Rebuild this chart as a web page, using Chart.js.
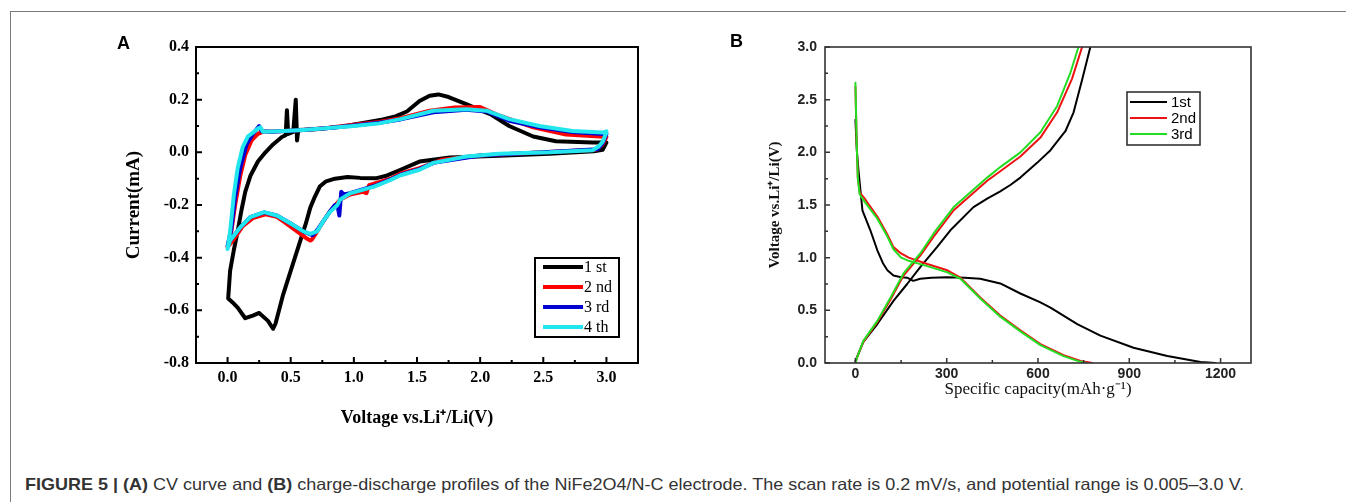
<!DOCTYPE html>
<html>
<head>
<meta charset="utf-8">
<script src="https://cdn.jsdelivr.net/npm/chart.js@4/dist/chart.umd.min.js"></script>
<style>
  html, body { margin:0; padding:0; background:#fff; }
  body { width:1346px; height:502px; position:relative; overflow:hidden; }
  .line-h { position:absolute; left:10px; top:11px; width:1336px; height:1px; background:#7a7a7a; }
  .line-v { position:absolute; left:10px; top:11px; width:1px; height:491px; background:#7a7a7a; }
  .plabel { position:absolute; font-family:'Liberation Sans', Arial, sans-serif; font-weight:bold; font-size:18px; line-height:18px; color:#000; }
  .wrap { position:absolute; top:0; width:673px; height:440px; }
  #cap { position:absolute; left:25px; top:476px; white-space:nowrap; font-family:'Liberation Sans', Arial, sans-serif;
         font-size:16.5px; line-height:16px; color:#333; transform-origin:0 0; }
</style>
</head>
<body>
<div class="line-h"></div>
<div class="line-v"></div>
<div class="wrap" style="left:0"><canvas id="cA" width="673" height="440"></canvas></div>
<div class="wrap" style="left:673px"><canvas id="cB" width="673" height="440"></canvas></div>
<div class="plabel" style="left:117px;top:34px">A</div>
<div class="plabel" style="left:730px;top:32px">B</div>
<div id="cap"><b>FIGURE 5 |</b> <b>(A)</b> CV curve and <b>(B)</b> charge-discharge profiles of the NiFe2O4/N-C electrode. The scan rate is 0.2 mV/s, and potential range is 0.005–3.0 V.</div>
<script>
// ---------------- DATA: panel A (CV curves), [voltage V, current mA] ----------------
const cvLabels = ['1 st', '2 nd', '3 rd', '4 th'];
const cvVoltTicks = [0.0, 0.5, 1.0, 1.5, 2.0, 2.5, 3.0];
const cvCurrTicks = [-0.8, -0.6, -0.4, -0.2, 0.0, 0.2, 0.4];

const cv1st = [
  [3.0,0.037],[2.97,0.01],[2.9,0.004],[2.55,-0.005],[2.15,-0.013],[1.76,-0.02],[1.52,-0.035],[1.37,-0.066],
  [1.25,-0.09],[1.18,-0.098],[1.05,-0.097],[0.95,-0.094],[0.85,-0.1],[0.78,-0.11],[0.73,-0.13],[0.69,-0.17],
  [0.655,-0.21],[0.62,-0.27],[0.58,-0.33],[0.52,-0.42],[0.44,-0.54],[0.38,-0.65],[0.36,-0.67],[0.32,-0.64],
  [0.25,-0.61],[0.2,-0.62],[0.14,-0.63],[0.08,-0.59],[0.04,-0.57],[0.005,-0.555],
  [0.02,-0.45],[0.05,-0.37],[0.08,-0.3],[0.11,-0.22],[0.14,-0.15],[0.18,-0.09],[0.24,-0.035],[0.3,0.0],
  [0.36,0.03],[0.43,0.058],[0.46,0.065],[0.47,0.16],[0.48,0.07],[0.52,0.078],[0.54,0.2],[0.55,0.045],
  [0.56,0.085],[0.7,0.088],[0.9,0.097],[1.05,0.11],[1.23,0.125],[1.32,0.135],[1.42,0.155],[1.52,0.195],
  [1.6,0.215],[1.67,0.22],[1.75,0.21],[1.89,0.183],[2.0,0.16],[2.08,0.145],[2.23,0.10],[2.42,0.06],
  [2.6,0.042],[2.89,0.037],[3.0,0.037]
];
const cv2nd = [
  [3.0,0.058],[2.97,0.03],[2.92,0.01],[2.5,0.0],[2.0,-0.012],[1.7,-0.028],[1.52,-0.06],[1.37,-0.08],
  [1.29,-0.1],[1.12,-0.125],[1.1,-0.155],[1.07,-0.15],[0.97,-0.16],[0.89,-0.18],[0.81,-0.225],[0.76,-0.26],
  [0.71,-0.3],[0.67,-0.33],[0.655,-0.335],[0.62,-0.325],[0.55,-0.3],[0.45,-0.265],[0.39,-0.245],[0.3,-0.235],
  [0.2,-0.25],[0.12,-0.28],[0.05,-0.33],[0.0,-0.36],
  [0.03,-0.3],[0.06,-0.2],[0.1,-0.09],[0.14,-0.01],[0.19,0.045],[0.24,0.07],[0.28,0.078],[0.4,0.08],
  [0.6,0.085],[0.8,0.093],[1.0,0.105],[1.2,0.115],[1.37,0.13],[1.6,0.158],[1.8,0.17],[2.0,0.172],
  [2.15,0.14],[2.42,0.095],[2.68,0.068],[2.95,0.06],[3.0,0.058]
];
const cv3rd = [
  [3.0,0.07],[2.97,0.035],[2.93,0.012],[2.5,0.0],[2.0,-0.012],[1.63,-0.04],[1.52,-0.064],[1.37,-0.085],
  [1.29,-0.103],[1.16,-0.128],[0.97,-0.155],[0.92,-0.16],[0.9,-0.15],[0.885,-0.24],[0.87,-0.2],[0.85,-0.2],
  [0.81,-0.225],[0.76,-0.26],[0.71,-0.295],[0.67,-0.315],[0.6,-0.3],[0.5,-0.27],[0.39,-0.24],[0.29,-0.228],
  [0.18,-0.246],[0.1,-0.285],[0.02,-0.335],[0.0,-0.355],
  [0.03,-0.29],[0.06,-0.17],[0.1,-0.06],[0.15,0.03],[0.2,0.07],[0.25,0.1],[0.27,0.08],[0.35,0.078],
  [0.6,0.085],[0.8,0.092],[1.0,0.102],[1.2,0.112],[1.37,0.125],[1.63,0.152],[1.89,0.162],[2.05,0.155],
  [2.23,0.12],[2.47,0.095],[2.73,0.077],[2.97,0.07],[3.0,0.07]
];
const cv4th = [
  [3.0,0.075],[2.97,0.04],[2.94,0.023],[2.89,0.008],[2.55,0.0],[2.15,-0.005],[1.89,-0.016],[1.63,-0.04],
  [1.52,-0.066],[1.37,-0.087],[1.29,-0.105],[1.16,-0.13],[0.97,-0.156],[0.89,-0.18],[0.87,-0.2],[0.81,-0.227],
  [0.76,-0.26],[0.71,-0.3],[0.655,-0.31],[0.6,-0.3],[0.5,-0.27],[0.39,-0.24],[0.29,-0.227],[0.18,-0.246],
  [0.1,-0.285],[0.02,-0.335],[0.0,-0.367],
  [0.02,-0.3],[0.05,-0.16],[0.08,-0.06],[0.12,0.02],[0.16,0.06],[0.2,0.075],[0.24,0.09],[0.26,0.095],
  [0.28,0.078],[0.4,0.08],[0.6,0.085],[0.8,0.092],[1.0,0.1],[1.2,0.11],[1.37,0.126],[1.63,0.158],
  [1.89,0.164],[2.05,0.158],[2.23,0.126],[2.47,0.1],[2.73,0.081],[2.97,0.075],[3.0,0.08]
];

// ---------------- DATA: panel B (charge-discharge), [capacity mAh/g, voltage V] ----------------
const gcLabels = ['1st', '2nd', '3rd'];
const gcCapTicks = [0, 300, 600, 900, 1200];
const gcVoltTicks = [0.0, 0.5, 1.0, 1.5, 2.0, 2.5, 3.0];

const gc1stDischarge = [
  [0,2.31],[5,2.0],[10,1.83],[23,1.45],[49,1.26],[72,1.07],[90,0.95],[105,0.88],[125,0.83],[150,0.815],
  [170,0.81],[190,0.78],[213,0.8],[250,0.81],[300,0.815],[360,0.81],[410,0.8],[476,0.755],[542,0.66],
  [608,0.575],[641,0.525],[729,0.37],[805,0.26],[914,0.145],[1025,0.067],[1134,0.01],[1183,0.0]
];
const gc1stCharge = [
  [0,0.02],[26,0.2],[72,0.37],[125,0.59],[170,0.75],[213,0.91],[268,1.1],[312,1.26],[388,1.48],[433,1.56],
  [476,1.63],[509,1.69],[542,1.76],[597,1.9],[641,2.02],[684,2.18],[690,2.2],[717,2.38],[745,2.69],[772,3.0]
];
const gc2ndDischarge = [
  [0,2.62],[4,2.1],[8,1.75],[14,1.62],[33,1.55],[72,1.39],[105,1.22],[125,1.1],[150,1.04],[175,1.0],
  [236,0.94],[302,0.88],[345,0.81],[411,0.62],[476,0.45],[542,0.31],[608,0.18],[684,0.075],[740,0.02],[778,0.0]
];
const gc2ndCharge = [
  [0,0.0],[5,0.05],[26,0.2],[72,0.39],[115,0.6],[158,0.83],[213,1.02],[257,1.2],[323,1.45],[433,1.73],
  [476,1.82],[542,1.96],[608,2.14],[663,2.38],[712,2.7],[745,3.0]
];
const gc3rdDischarge = [
  [0,2.66],[4,2.1],[8,1.75],[14,1.6],[33,1.52],[72,1.37],[105,1.2],[125,1.08],[150,1.0],[175,0.97],
  [236,0.92],[302,0.86],[345,0.8],[411,0.61],[476,0.44],[542,0.3],[608,0.17],[684,0.065],[730,0.02],[758,0.0]
];
const gc3rdCharge = [
  [0,0.0],[5,0.05],[26,0.21],[72,0.40],[115,0.62],[158,0.85],[213,1.04],[257,1.23],[323,1.48],[433,1.76],
  [476,1.86],[542,2.0],[608,2.19],[663,2.44],[707,2.76],[733,3.0]
];

// ---------------- helpers ----------------
const pts = arr => arr.map(p => ({x:p[0], y:p[1]}));
const SERIF = "'Liberation Serif', 'Times New Roman', serif";
const SANS = "'Liberation Sans', Arial, sans-serif";

const deco = {
  id: 'deco',
  afterDatasetsDraw(chart, args, o) {
    const ctx = chart.ctx, a = chart.chartArea, xs = chart.scales.x, ys = chart.scales.y;
    ctx.save();
    ctx.strokeStyle = o.color;
    ctx.lineWidth = o.tickWidth;
    ctx.beginPath();
    const xv = xs.ticks.map(t => t.value), yv = ys.ticks.map(t => t.value);
    xv.forEach((v, i) => {
      const p = xs.getPixelForValue(v);
      ctx.moveTo(p, a.bottom); ctx.lineTo(p, a.bottom - o.major);
      if (i > 0) { const m = xs.getPixelForValue((v + xv[i-1]) / 2); ctx.moveTo(m, a.bottom); ctx.lineTo(m, a.bottom - o.minor); }
    });
    yv.forEach((v, i) => {
      const p = ys.getPixelForValue(v);
      ctx.moveTo(a.left, p); ctx.lineTo(a.left + o.major, p);
      if (i > 0) { const m = ys.getPixelForValue((v + yv[i-1]) / 2); ctx.moveTo(a.left, m); ctx.lineTo(a.left + o.minor, m); }
    });
    ctx.stroke();
    ctx.lineWidth = o.frameWidth;
    ctx.strokeRect(a.left, a.top, a.right - a.left, a.bottom - a.top);
    // legend
    const L = o.legend;
    ctx.fillStyle = '#fff';
    ctx.fillRect(a.left + L.left, a.top + L.top, L.width, L.height);
    ctx.lineWidth = L.boxWidth;
    ctx.strokeStyle = o.color;
    ctx.strokeRect(a.left + L.left, a.top + L.top, L.width, L.height);
    ctx.font = L.font;
    ctx.textBaseline = 'middle';
    ctx.textAlign = 'left';
    const shown = chart.data.datasets.filter(ds => ds.legend !== false);
    shown.forEach((ds, i) => {
      const y = a.top + L.rows[i];
      ctx.strokeStyle = ds.borderColor;
      ctx.lineWidth = L.lineWidth;
      ctx.beginPath();
      ctx.moveTo(a.left + L.x0, y); ctx.lineTo(a.left + L.x1, y);
      ctx.stroke();
      ctx.fillStyle = '#000';
      ctx.fillText(ds.label, a.left + L.tx, y + 1);
    });
    ctx.restore();
  }
};

function lineDs(label, data, color, width, order, legend) {
  return { label, data: pts(data), borderColor: color, backgroundColor: color, borderWidth: width,
           showLine: true, pointRadius: 0, tension: 0, order, legend, borderJoinStyle: 'round', borderCapStyle: 'round' };
}

// ---------------- Panel A ----------------
new Chart(document.getElementById('cA'), {
  type: 'scatter',
  data: { datasets: [
    lineDs(cvLabels[0], cv1st, '#000000', 4, 3, true),
    lineDs(cvLabels[1], cv2nd, '#ff0000', 4, 2, true),
    lineDs(cvLabels[2], cv3rd, '#0000d0', 4, 1, true),
    lineDs(cvLabels[3], cv4th, '#22e6ee', 4, 0, true)
  ]},
  options: {
    responsive: false, animation: false, devicePixelRatio: 1,
    layout: { padding: { left: 0, top: 47, right: 35, bottom: 0 } },
    plugins: {
      legend: { display: false }, tooltip: { enabled: false },
      deco: { color: '#000', tickWidth: 2, major: 6, minor: 3, frameWidth: 2,
        legend: { left: 339, top: 211, width: 84, height: 79, boxWidth: 2, rows: [220, 240, 260, 280],
                  x0: 347, x1: 387, tx: 388, lineWidth: 4, font: "16px " + SERIF } }
    },
    scales: {
      x: {
        type: 'linear', min: -0.25, max: 3.25,
        afterBuildTicks: s => { s.ticks = cvVoltTicks.map(v => ({ value: v })); },
        afterFit: s => { s.height = 77; },
        grid: { display: false, drawTicks: false }, border: { display: false },
        ticks: { callback: v => Number(v).toFixed(1), font: { family: SERIF, weight: 'bold', size: 16 }, color: '#000', padding: 5, maxRotation: 0, autoSkip: false },
        title: { display: true, text: 'Voltage vs.Li\u207A/Li(V)', color: '#000', font: { family: SERIF, weight: 'bold', size: 18 }, padding: { top: 0, bottom: 11 } }
      },
      y: {
        type: 'linear', min: -0.8, max: 0.4,
        afterBuildTicks: s => { s.ticks = cvCurrTicks.map(v => ({ value: v })); },
        afterFit: s => { s.width = 196; },
        grid: { display: false, drawTicks: false }, border: { display: false },
        ticks: { callback: v => Number(v).toFixed(1), font: { family: SERIF, weight: 'bold', size: 16 }, color: '#000', padding: 7, autoSkip: false },
        title: { display: true, text: 'Current(mA)', color: '#000', font: { family: SERIF, weight: 'bold', size: 19 }, padding: { top: 123, bottom: 0 } }
      }
    }
  },
  plugins: [deco]
});

// ---------------- Panel B ----------------
new Chart(document.getElementById('cB'), {
  type: 'scatter',
  data: { datasets: [
    lineDs(gcLabels[0], gc1stDischarge, '#000000', 2, 5, true),
    lineDs(gcLabels[1], gc2ndDischarge, '#ee1111', 2, 3, true),
    lineDs(gcLabels[2], gc3rdDischarge, '#22dd22', 2, 1, true),
    lineDs(gcLabels[0] + ' charge', gc1stCharge, '#000000', 2, 4, false),
    lineDs(gcLabels[1] + ' charge', gc2ndCharge, '#ee1111', 2, 2, false),
    lineDs(gcLabels[2] + ' charge', gc3rdCharge, '#22dd22', 2, 0, false)
  ]},
  options: {
    responsive: false, animation: false, devicePixelRatio: 1,
    layout: { padding: { left: 0, top: 47, right: 95, bottom: 0 } },
    plugins: {
      legend: { display: false }, tooltip: { enabled: false },
      deco: { color: '#333', tickWidth: 1.5, major: 5, minor: 3, frameWidth: 1.6,
        legend: { left: 302, top: 45, width: 73, height: 53, boxWidth: 1.6, rows: [55, 71, 87],
                  x0: 305, x1: 342, tx: 346, lineWidth: 2, font: "15px " + SANS } }
    },
    scales: {
      x: {
        type: 'linear', min: -100, max: 1300,
        afterBuildTicks: s => { s.ticks = gcCapTicks.map(v => ({ value: v })); },
        afterFit: s => { s.height = 77; },
        grid: { display: false, drawTicks: false }, border: { display: false },
        ticks: { callback: v => String(v), font: { family: SANS, weight: 'bold', size: 14 }, color: '#222', padding: 3, maxRotation: 0, autoSkip: false },
        title: { display: true, text: 'Specific capacity(mAh\u00B7g\u207B\u00B9)', color: '#111', font: { family: SERIF, weight: 'normal', size: 17 }, padding: { top: 0, bottom: 40 } }
      },
      y: {
        type: 'linear', min: 0, max: 3,
        afterBuildTicks: s => { s.ticks = gcVoltTicks.map(v => ({ value: v })); },
        afterFit: s => { s.width = 152; },
        grid: { display: false, drawTicks: false }, border: { display: false },
        ticks: { callback: v => Number(v).toFixed(1), font: { family: SANS, weight: 'bold', size: 14 }, color: '#222', padding: 8, autoSkip: false },
        title: { display: true, text: 'Voltage vs.Li\u207A/Li(V)', color: '#111', font: { family: SERIF, weight: 'bold', size: 15 }, padding: { top: 93, bottom: 0 } }
      }
    }
  },
  plugins: [deco]
});

// fit caption width to the reference span
const cap = document.getElementById('cap');
const w = cap.getBoundingClientRect().width;
cap.style.transform = 'scaleX(' + (1219 / w) + ')';
</script>
</body>
</html>
